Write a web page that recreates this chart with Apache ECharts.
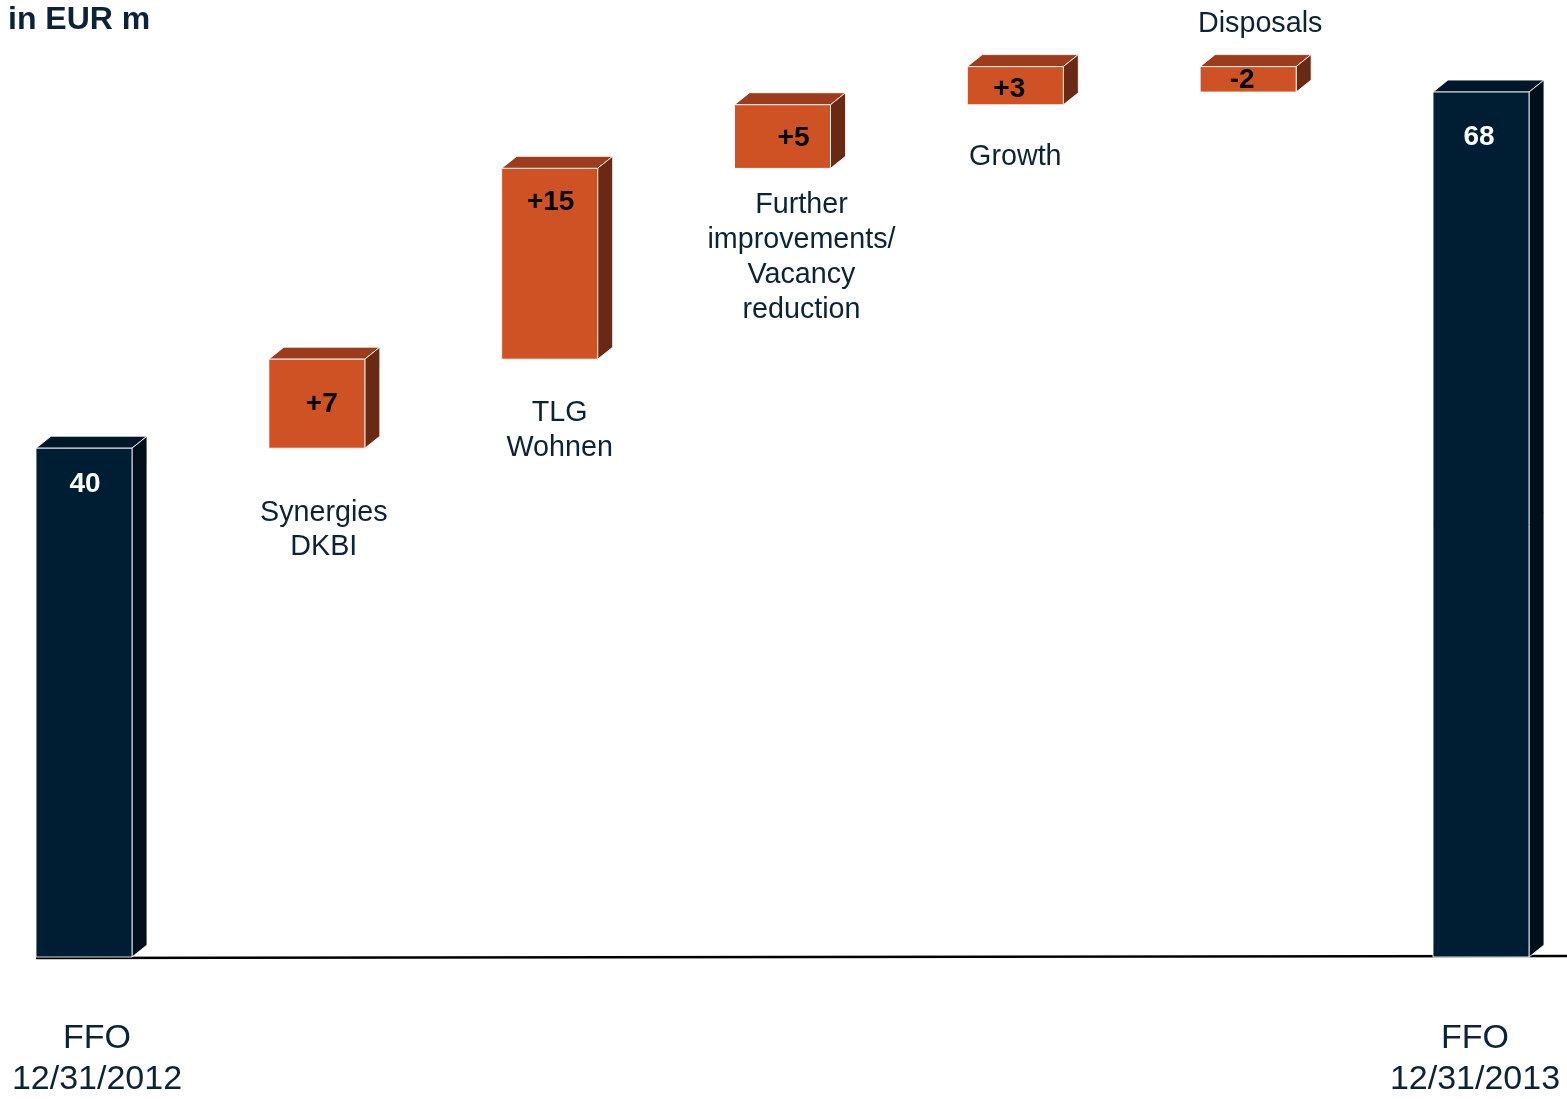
<!DOCTYPE html>
<html>
<head>
<meta charset="utf-8">
<script src="https://cdn.jsdelivr.net/npm/echarts@6/dist/echarts.min.js"></script>
<style>html,body{margin:0;padding:0;background:#fff;}#c{width:1567px;height:1099px;}</style>
</head>
<body>
<div id="c"></div>
<script>
// ---- data ----
const categories = ['FFO\n12/31/2012', 'Synergies\nDKBI', 'TLG\nWohnen', 'Further\nimprovements/\nVacancy\nreduction', 'Growth', 'Disposals', 'FFO\n12/31/2013'];
const values = [40, 7, 15, 5, 3, -2, 68];
const isTotal = [true, false, false, false, false, false, true];
const valueLabels = ['40', '+7', '+15', '+5', '+3', '-2', '68'];

// ---- layout (positions/styles, not data) ----
const valueLabelOffset = [[1, 36], [5, 45], [1, 34], [11, 34], [-6, 23], [-6, 14], [-2, 45]];
const catLabelLayout = [
  {dx: 13, anchor: 'axis', dy: 82, lh: 41, size: 34},
  {dx: 7, anchor: 'bottom', dy: 65, lh: 34, size: 28.7},
  {dx: 10, anchor: 'bottom', dy: 54, lh: 35, size: 28.7},
  {dx: 19, anchor: 'bottom', dy: 37, lh: 35, size: 28.7},
  {dx: 0, anchor: 'bottom', dy: 52, lh: 35, size: 28.7},
  {dx: 12, anchor: 'top', dy: -43, lh: 35, size: 28.7},
  {dx: -6, anchor: 'axis', dy: 82, lh: 41, size: 34}
];
const FONT = "'Liberation Sans', Arial, Helvetica, sans-serif";

// build waterfall ranges
const seriesData = [];
let run = 0;
values.forEach((v, i) => {
  let lo, hi;
  if (isTotal[i]) { lo = 0; hi = v; run = v; }
  else { const s = run; run += v; lo = Math.min(s, run); hi = Math.max(s, run); }
  seriesData.push([i, lo, hi]);
});

const chart = echarts.init(document.getElementById('c'));
const BAR_W = 96, DX = 15, DY = 12;

function renderItem(params, api) {
  const i = api.value(0);
  const lo = api.value(1), hi = api.value(2);
  const pLo = api.coord([i, lo]);
  const pHi = api.coord([i, hi]);
  const axisY = api.coord([i, 0])[1];
  const cx = pLo[0];
  const x0 = cx - BAR_W / 2, x1 = cx + BAR_W / 2;
  const yT = pHi[1], yB = pLo[1];
  const tot = isTotal[i];
  const cFront = tot ? '#001e33' : '#cf5224';
  const cTop = tot ? '#00172a' : '#9c3c1c';
  const cSide = tot ? '#000f1b' : '#692912';
  const edge = 'rgba(255,255,255,0.85)';
  const children = [];
  if (i === 0) {
    children.push({
      type: 'line', z2: 0,
      shape: {x1: x0, y1: axisY + 1, x2: api.getWidth(), y2: axisY - 1},
      style: {stroke: '#000', lineWidth: 2.5}
    });
  }
  children.push({
    type: 'polygon', z2: 1,
    shape: {points: [[x0, yT], [x0 + DX, yT - DY], [x1 + DX, yT - DY], [x1, yT]]},
    style: {fill: cTop, stroke: edge, lineWidth: 1}
  });
  children.push({
    type: 'polygon', z2: 1,
    shape: {points: [[x1, yT], [x1 + DX, yT - DY], [x1 + DX, yB - DY], [x1, yB]]},
    style: {fill: cSide, stroke: edge, lineWidth: 1}
  });
  children.push({
    type: 'rect', z2: 2,
    shape: {x: x0, y: yT, width: BAR_W, height: yB - yT},
    style: {fill: cFront, stroke: edge, lineWidth: 1}
  });
  const vo = valueLabelOffset[i];
  children.push({
    type: 'text', z2: 3,
    style: {
      text: valueLabels[i], x: cx + vo[0], y: yT + vo[1],
      align: 'center', verticalAlign: 'middle',
      font: 'bold 28px ' + FONT, fill: tot ? '#ffffff' : '#000000'
    }
  });
  const L = catLabelLayout[i];
  let refY = L.anchor === 'axis' ? axisY : (L.anchor === 'bottom' ? yB : yT);
  children.push({
    type: 'text', z2: 3,
    style: {
      text: categories[i], x: cx + L.dx, y: refY + L.dy - L.lh / 2,
      align: 'center', verticalAlign: 'top', lineHeight: L.lh,
      font: L.size + 'px ' + FONT, fill: '#0c2236'
    }
  });
  return {type: 'group', children};
}

chart.setOption({
  animation: false,
  backgroundColor: '#ffffff',
  title: {
    text: 'in EUR m', left: 3, top: -1,
    textStyle: {fontFamily: FONT, fontWeight: 'bold', fontSize: 32, color: '#0c2236'}
  },
  grid: {left: 84, right: 86, top: 3, bottom: 142},
  xAxis: {
    type: 'category', data: categories, boundaryGap: false,
    axisLine: {show: false}, axisTick: {show: false}, axisLabel: {show: false}, splitLine: {show: false}
  },
  yAxis: {
    type: 'value', min: 0, max: 75,
    show: false, splitLine: {show: false}
  },
  series: [{
    type: 'custom',
    renderItem: renderItem,
    encode: {x: 0, y: [1, 2]},
    data: seriesData,
    clip: false
  }]
});
</script>
</body>
</html>
